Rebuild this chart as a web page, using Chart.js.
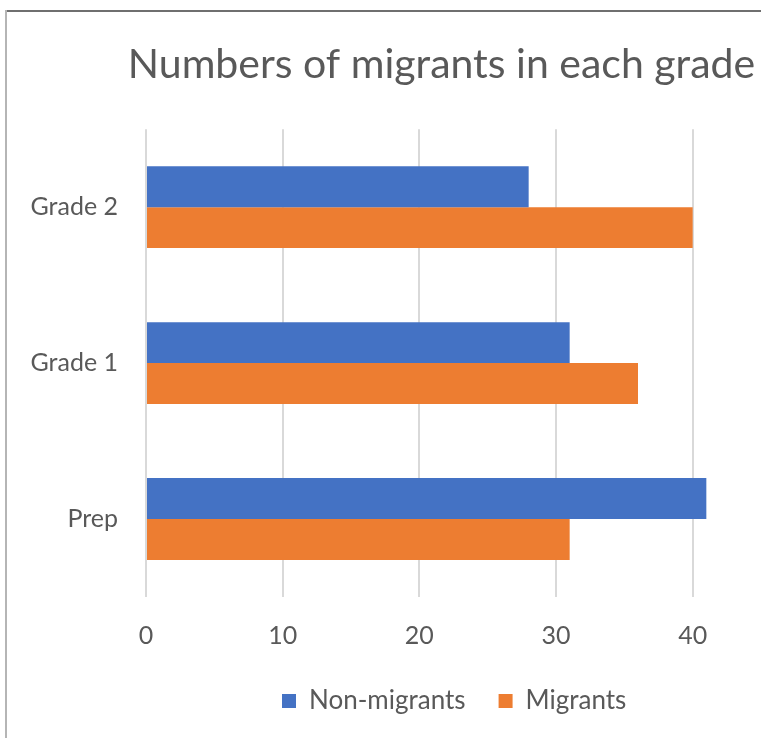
<!DOCTYPE html>
<html>
<head>
<meta charset="utf-8">
<script src="https://cdn.jsdelivr.net/npm/chart.js@4/dist/chart.umd.min.js"></script>
<style>
  html, body { margin: 0; padding: 0; background: #fff; overflow: hidden; }
  .edge { position: absolute; }
  #edgeTop { left: 5px; top: 10px; width: 756px; height: 2px; background: #6f6f6f; }
  #edgeLeft { left: 5px; top: 10px; width: 2px; height: 728px; background: #b5b5b5; }
  #wrap { position: absolute; left: 0; top: 0; width: 761px; height: 738px; }
</style>
</head>
<body>
<div class="edge" id="edgeTop"></div>
<div class="edge" id="edgeLeft"></div>
<div id="wrap"><canvas id="gradeChart"></canvas></div>
<script>
const grades = ['Grade 2', 'Grade 1', 'Prep'];
const nonMigrants = [28, 31, 41];
const migrants = [40, 36, 31];
const xTicks = [0, 10, 20, 30, 40];

const grey = '#595959';
const font = 'Lato, "Open Sans", sans-serif';

// nudge title and legend sideways after layout
const shiftBlocks = {
  id: 'shiftBlocks',
  afterLayout(chart) {
    if (chart.titleBlock) {
      chart.titleBlock.left = 122;
      chart.titleBlock.right = 761;
    }
    if (chart.legend) {
      const h = chart.legend.height;
      chart.legend.left = 249;
      chart.legend.top = 655;
      chart.legend.bottom = 655 + h;
    }
  }
};

const ctx = document.getElementById('gradeChart');
new Chart(ctx, {
    type: 'bar',
    data: {
        labels: grades,
        datasets: [{
            label: 'Non-migrants',
            data: nonMigrants,
            backgroundColor: '#4472C4'
        }, {
            label: 'Migrants',
            data: migrants,
            backgroundColor: '#ED7D31'
        }]
    },
    options: {
        indexAxis: 'y',
        responsive: true,
        maintainAspectRatio: false,
        animation: false,
        categoryPercentage: 0.525,
        barPercentage: 1,
        layout: { padding: { left: 0, right: 0, top: 0, bottom: 17 } },
        scales: {
            x: {
                min: 0,
                max: 45,
                afterBuildTicks(axis) {
                    axis.ticks = xTicks.map(v => ({ value: v }));
                },
                afterFit(axis) { axis.height = 55; },
                grid: { color: '#d9d9d9', lineWidth: 2, drawTicks: false },
                border: { display: false },
                ticks: { color: grey, font: { family: font, size: 25 }, padding: 24 }
            },
            y: {
                grid: { display: false, drawTicks: false },
                border: { display: false },
                ticks: { color: grey, font: { family: font, size: 25 }, padding: 28 },
                afterFit(axis) { axis.width = 146; }
            }
        },
        plugins: {
            title: {
                display: true,
                text: 'Numbers of migrants in each grade',
                color: grey,
                font: { family: font, size: 41, weight: 'normal' },
                padding: { top: 40, bottom: 40 }
            },
            legend: {
                position: 'bottom',
                align: 'start',
                labels: {
                    color: grey,
                    font: { family: font, size: 26 },
                    boxWidth: 14,
                    boxHeight: 14,
                    padding: 33
                }
            },
            tooltip: { enabled: false }
        }
    },
    plugins: [shiftBlocks]
});
</script>
</body>
</html>
